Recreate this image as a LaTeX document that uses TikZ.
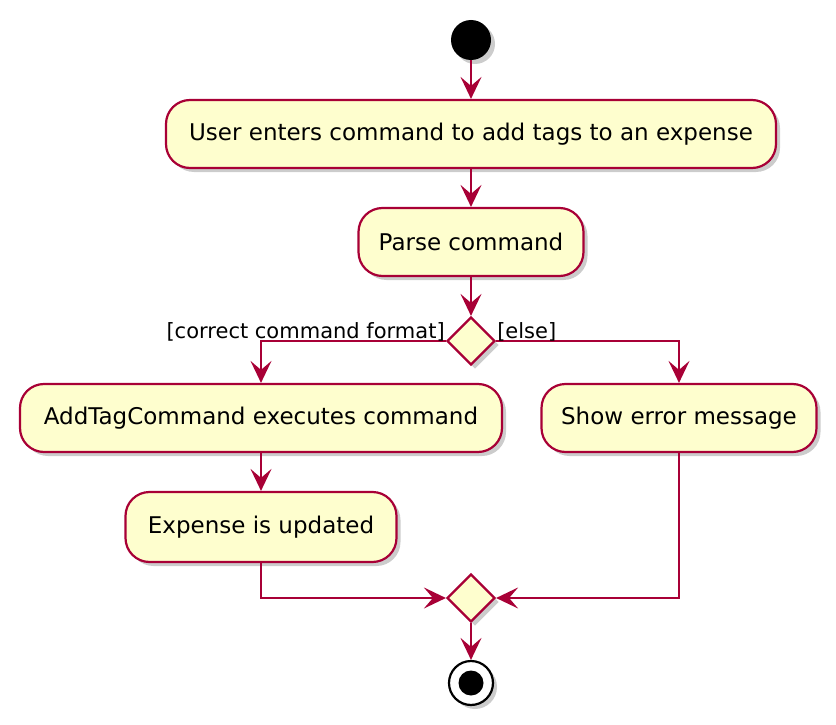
\documentclass[tikz,border=0pt]{standalone}
\usepackage{fontspec}
\setmainfont{DejaVu Sans}
\usetikzlibrary{arrows.meta,shapes.geometric,shadows}
\definecolor{umlred}{HTML}{A80036}
\definecolor{umlfill}{HTML}{FEFECE}
\begin{document}
\begin{tikzpicture}[x=1pt,y=-1pt,
  shad/.style={drop shadow={shadow xshift=4pt,shadow yshift=-4pt,fill=black,opacity=0.2}},
  act/.style={draw=umlred,fill=umlfill,line width=2.2pt,rounded corners=24pt,minimum height=68pt,inner sep=0pt,shad,font=\fontsize{23}{27}\selectfont},
  dec/.style={draw=umlred,fill=umlfill,line width=2.2pt,diamond,minimum width=48pt,minimum height=48pt,inner sep=0pt,shad},
  arr/.style={draw=umlred,line width=2.2pt,-{Stealth[length=22pt,width=21pt,inset=9pt]}},
  lab/.style={font=\fontsize{21}{24}\selectfont,inner sep=1pt}]
\useasboundingbox (0,0) rectangle (836,725);
\node[circle,fill=black,minimum size=40pt,inner sep=0pt,shad] (start) at (471,40) {};
\node[act,minimum width=610pt] (b1) at (471,134) {User enters command to add tags to an expense};
\node[act,minimum width=225pt] (b2) at (471,242) {Parse command};
\node[dec] (d1) at (471,341) {};
\node[act,minimum width=482pt] (b3) at (261,418) {AddTagCommand executes command};
\node[act,minimum width=275pt] (b4) at (679,418) {Show error message};
\node[act,minimum width=271pt,minimum height=70pt] (b5) at (261,527) {Expense is updated};
\node[dec] (d2) at (471,598) {};
\node[circle,draw=black,fill=white,line width=2.2pt,minimum size=44pt,inner sep=0pt,shad] (stop) at (471,683) {};
\node[circle,fill=black,minimum size=25pt,inner sep=0pt] (stopin) at (stop.center) {};
\draw[arr] (start) -- (b1);
\draw[arr] (b1) -- (b2);
\draw[arr] (b2) -- (d1);
\draw[arr] (d1.west) -| (b3.north);
\draw[arr] (d1.east) -| (b4.north);
\node[lab,anchor=south east] (l1) at ([yshift=-1pt]d1.west) {[correct command format]};
\node[lab,anchor=south west] (l2) at ([yshift=-1pt]d1.east) {[else]};
\draw[arr] (b3) -- (b5);
\draw[arr] (b5.south) |- (d2.west);
\draw[arr] (b4.south) |- (d2.east);
\draw[arr] (d2) -- (stop);
\end{tikzpicture}
\end{document}
